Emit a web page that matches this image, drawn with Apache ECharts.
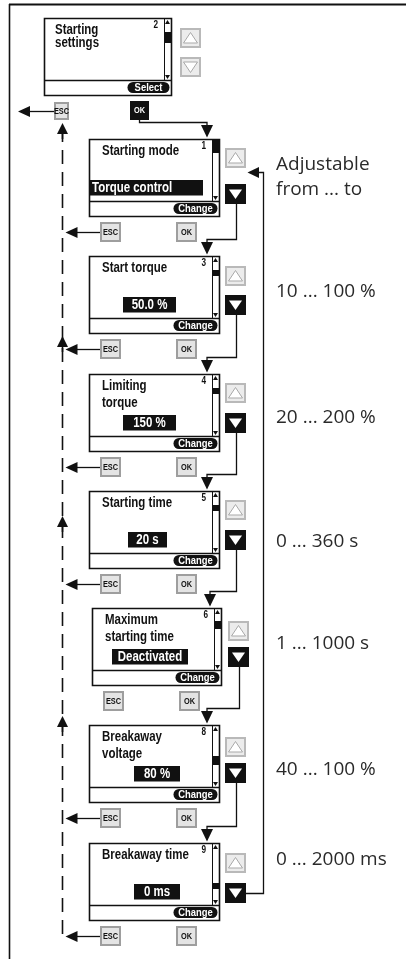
<!DOCTYPE html>
<html><head><meta charset="utf-8">
<script src="https://cdn.jsdelivr.net/npm/echarts@6/dist/echarts.min.js"></script>
<style>html,body{margin:0;padding:0;background:#fff}#c{width:406px;height:959px}</style>
</head><body><div id="c"></div>
<script>
// ---------- DATA ----------
const screenIds = ['2', '1', '3', '4', '5', '6', '8', '9'];
const screenTitles = [
  ['Starting', 'settings'], ['Starting mode'], ['Start torque'], ['Limiting', 'torque'],
  ['Starting time'], ['Maximum', 'starting time'], ['Breakaway', 'voltage'], ['Breakaway time']
];
const screenValues = ['', 'Torque control', '50.0 %', '150 %', '20 s', 'Deactivated', '80 %', '0 ms'];
const softKeys = ['Select', 'Change', 'Change', 'Change', 'Change', 'Change', 'Change', 'Change'];
const rangeLabels = [[], ['Adjustable', 'from ... to'], ['10 ... 100 %'], ['20 ... 200 %'],
  ['0 ... 360 s'], ['1 ... 1000 s'], ['40 ... 100 %'], ['0 ... 2000 ms']];

// ---------- LAYOUT (positions / sizes, kept apart from data) ----------
const LY = {
  left:   [44, 89, 89, 89, 89, 92, 89, 89],
  width:  [127, 130, 130, 130, 130, 129, 130, 130],
  dy:     [-3.6, 0, 0, 0, 0, 0, 0, 0],
  valBox: [null, [1, 113], [34, 53], [34, 53], [39, 39], [20, 76], [45, 46], [45, 46]],
  thumb:  [[14, 11], [1, 13], [14, 6], [14, 6], [14, 6], [13, 8], [31, 9], [40, 6]],
  upBtn:  [10, 9, 10, 9, 9, 13, 12, 10],
  downBtn:[39, 45, 39, 39, 39, 39, 38, 40],
  rangeDy:[[], [26, 51], [36], [44], [51], [36], [45], [17]],
  escArrow:[true, true, true, true, true, false, true, true],
  dashX: 62.5,
  upMarks: [[0, 105], [2, 80], [4, 25], [6, -9]]
};
const BOLD = '"Liberation Sans",Arial,sans-serif';
const LIGHT = '"Open Sans","Liberation Sans",sans-serif';
const NARROW = 0.82;

function rect(x, y, w, h, fill, stroke, lw, r) {
  return { type: 'rect', shape: { x: x, y: y, width: w, height: h, r: r || 0 },
    style: { fill: fill || 'none', stroke: stroke || 'none', lineWidth: lw || 0 } };
}
function line(x1, y1, x2, y2, lw, dash) {
  return { type: 'line', shape: { x1: x1, y1: y1, x2: x2, y2: y2 },
    style: { stroke: '#111', lineWidth: lw || 1, lineDash: dash || null, fill: 'none' } };
}
function poly(pts, fill, stroke, lw) {
  return { type: 'polygon', shape: { points: pts }, style: { fill: fill || '#111', stroke: stroke || 'none', lineWidth: lw || 0 } };
}
function pline(pts, lw) {
  return { type: 'polyline', shape: { points: pts }, style: { stroke: '#111', lineWidth: lw || 1, fill: 'none' } };
}
// condensed bold text (scaled horizontally)
function ctxt(s, x, y, size, color, align) {
  return { type: 'text', x: x, y: y, scaleX: NARROW, scaleY: 1,
    style: { text: s, x: 0, y: 0, fill: color, fontSize: size, fontWeight: 'bold',
      fontFamily: BOLD, align: align || 'left', verticalAlign: 'middle' } };
}
function ltxt(s, x, y, size, color) {
  return { type: 'text', style: { text: s, x: x, y: y, fill: color, fontSize: size, fontWeight: 'normal',
    fontFamily: LIGHT, align: 'left', verticalAlign: 'middle' } };
}
function greyBtn(x, y, up) {
  const cx = x + 10.5;
  const tri = up ? [[cx, y + 4.5], [cx - 7, y + 15], [cx + 7, y + 15]] : [[cx - 7, y + 5], [cx + 7, y + 5], [cx, y + 15.5]];
  return [rect(x + 1, y + 1, 19, 18, '#ececec', '#b9b9b9', 2), poly(tri, '#fff', '#a9a9a9', 1)];
}
function blackDown(x, y) {
  const cx = x + 10.5;
  return [rect(x, y, 21, 20, '#111'), poly([[cx - 6.5, y + 5.5], [cx + 6.5, y + 5.5], [cx, y + 15]], '#fff')];
}
function keyBtn(x, y, w, h, label, dark) {
  if (dark) return [rect(x, y, w, h, '#111'), ctxt(label, x + w / 2, y + h / 2 + 0.5, 9, '#fff', 'center')];
  return [rect(x + 1, y + 1, w - 2, h - 2, '#e4e4e4', '#9e9e9e', 2), ctxt(label, x + w / 2, y + h / 2 + 0.5, 9, '#111', 'center')];
}

function anchor(api, i) {
  return api.coord([0, i])[1] - 41 + LY.dy[i];
}
function X(api, i, x) { return api.coord([x, i])[0]; }

function renderScreen(params, api) {
  const i = api.value(1);
  const T = Math.round(anchor(api, i));
  const L = X(api, i, LY.left[i]);
  const W = LY.width[i];
  const R = L + W;
  const ch = [];
  // box
  ch.push(rect(L + 0.5, T + 0.5, W, 77, '#fff', '#111', 1.6));
  ch.push(line(L, T + 62.5, R, T + 62.5, 1.3));
  ch.push(line(R - 6.5, T, R - 6.5, T + 62, 1));
  ch.push(poly([[R - 3.5, T + 2], [R - 6, T + 6], [R - 1, T + 6]]));
  ch.push(poly([[R - 6, T + 57], [R - 1, T + 57], [R - 3.5, T + 61]]));
  const th = LY.thumb[i];
  ch.push(rect(R - 6, T + th[0], 6, th[1], '#111'));
  // title
  const tl = screenTitles[i];
  if (i === 0) {
    ch.push(ctxt(tl[0], L + 11, T + 12, 14, '#111'));
    ch.push(ctxt(tl[1], L + 11, T + 25.5, 14, '#111'));
  } else {
    tl.forEach(function (s, k) { ch.push(ctxt(s, L + 13, T + 12 + k * 17, 14, '#111')); });
  }
  ch.push(ctxt(screenIds[i], R - 13, T + 7, 10, '#111', 'right'));
  // value
  if (LY.valBox[i]) {
    const vb = LY.valBox[i];
    ch.push(rect(L + vb[0], T + 41, vb[1], 15.5, '#111'));
    if (i === 1) ch.push(ctxt(screenValues[i], L + vb[0] + 2, T + 49, 14, '#fff'));
    else ch.push(ctxt(screenValues[i], L + vb[0] + vb[1] / 2, T + 49, 14, '#fff', 'center'));
  }
  // soft key pill
  const pw = i === 0 ? 42 : 44;
  ch.push(rect(R - pw - 1.5, T + 64, pw, 11, '#111', null, 0, 5.5));
  ch.push(ctxt(softKeys[i], R - pw / 2 - 1.5, T + 69.8, 11.5, '#fff', 'center'));
  // up / down buttons
  const bx = L + 136;
  greyBtn(bx, T + LY.upBtn[i], true).forEach(function (e) { ch.push(e); });
  if (i === 0) greyBtn(bx, T + LY.downBtn[i], false).forEach(function (e) { ch.push(e); });
  else blackDown(bx, T + LY.downBtn[i]).forEach(function (e) { ch.push(e); });
  // ESC / OK
  const ky = T + 83;
  if (i === 0) {
    keyBtn(L + 10, ky + 1, 15, 18, 'ESC', false).forEach(function (e) { ch.push(e); });
    keyBtn(L + 86, ky, 19, 19, 'OK', true).forEach(function (e) { ch.push(e); });
  } else {
    keyBtn(L + 11, ky, 21, 20, 'ESC', false).forEach(function (e) { ch.push(e); });
    keyBtn(L + 87, ky, 21, 20, 'OK', false).forEach(function (e) { ch.push(e); });
  }
  // ESC back arrow
  if (LY.escArrow[i]) {
    const ay = T + 93.5;
    const tip = i === 0 ? 18 : LY.dashX + 3;
    ch.push(line(tip + 10, ay, L + (i === 0 ? 10 : 11), ay, 1.3));
    ch.push(poly([[tip, ay], [tip + 12, ay - 5.5], [tip + 12, ay + 5.5]]));
  }
  // connector to next screen
  if (i < screenIds.length - 1) {
    const Tn = Math.round(anchor(api, i + 1));
    const ax = X(api, i + 1, LY.left[i + 1] + 118);
    const hy = Tn - 16.5;
    let sx, sy;
    if (i === 0) { sx = L + 95.5; sy = ky + 19; }
    else { sx = bx + 11.5; sy = T + LY.downBtn[i] + 20; }
    ch.push(pline([[sx, sy], [sx, hy], [ax, hy], [ax, Tn - 14]], 1.3));
    ch.push(poly([[ax - 6, Tn - 14], [ax + 6, Tn - 14], [ax, Tn - 1.5]]));
  }
  // adjustable ranges
  const rl = rangeLabels[i];
  rl.forEach(function (s, k) {
    ch.push(ltxt(s, 276, T + LY.rangeDy[i][k], 19, '#2a2a2a'));
  });
  return { type: 'group', children: ch };
}

function renderGlobal(params, api) {
  const n = screenIds.length;
  const ch = [];
  const T0 = anchor(api, 0), T1 = Math.round(anchor(api, 1)), TL = Math.round(anchor(api, n - 1));
  const dx = LY.dashX;
  // dashed ESC return line
  ch.push(line(dx, T0 + 110, dx, TL + 95, 1.6, [14, 8]));
  LY.upMarks.forEach(function (m) {
    const t = Math.round(anchor(api, m[0])) + m[1];
    ch.push(line(dx, t + 6, dx, t + 16, 1.6));
    ch.push(poly([[dx, t], [dx - 5.5, t + 11], [dx + 5.5, t + 11]]));
  });
  // feedback loop from last down button back to first up button
  const bxL = X(api, n - 1, LY.left[n - 1] + 136);
  const fy = TL + LY.downBtn[n - 1] + 10.5;
  const fx = 263.5;
  const ty = T1 + 33.5;
  ch.push(pline([[bxL + 21, fy], [fx, fy], [fx, ty], [bxL + 30, ty]], 1.3));
  ch.push(poly([[bxL + 22.5, ty], [bxL + 34, ty - 5.5], [bxL + 34, ty + 5.5]]));
  // outer frame
  ch.push(line(9, 4.5, 406, 4.5, 1.8));
  ch.push(line(9.5, 4, 9.5, 959, 1.6));
  return { type: 'group', children: ch };
}

const chart = echarts.init(document.getElementById('c'), null, { renderer: 'canvas' });
chart.setOption({
  animation: false,
  backgroundColor: '#fff',
  grid: { left: 0, right: 0, top: 4, height: 938.4 },
  xAxis: { type: 'value', min: 0, max: 406, show: false },
  yAxis: { type: 'category', data: screenIds, inverse: true, show: false },
  series: [
    { type: 'custom', renderItem: renderGlobal, data: [[0, 0]], silent: true, clip: false, z: 1 },
    { type: 'custom', renderItem: renderScreen, silent: true, clip: false, z: 2,
      data: screenIds.map(function (s, i) { return [0, i]; }) }
  ]
});
</script>
</body></html>
